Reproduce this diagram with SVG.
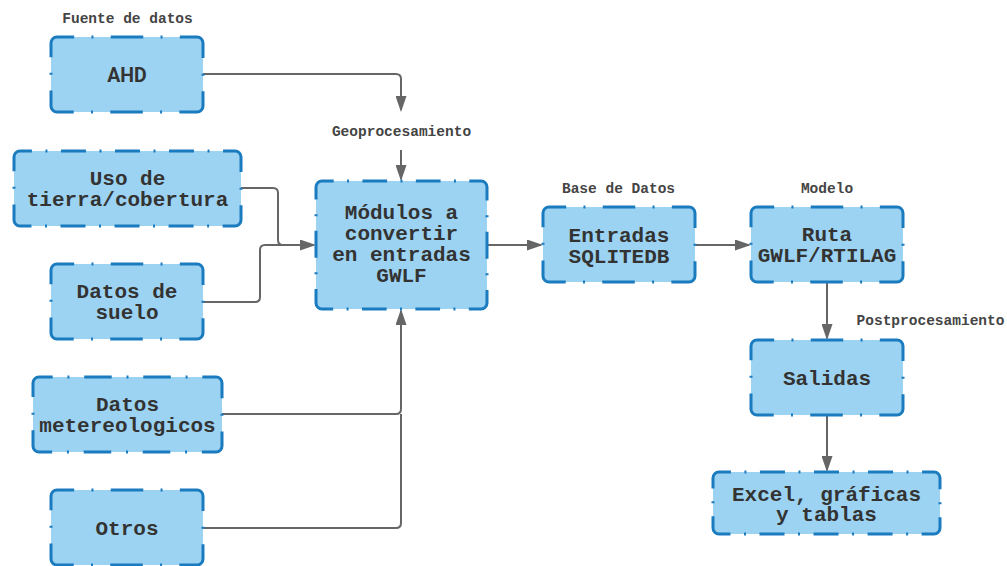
<svg xmlns="http://www.w3.org/2000/svg" width="1007" height="566" viewBox="0 0 1007 566">
  <defs>
    <style>
      .box rect { fill:#9dd3f2; stroke:#1b7bbf; stroke-width:3; stroke-linecap:butt; }
      /* dash-dot borders: dashes sit on the corners, dots spread evenly along each side */
      .s152 rect { stroke-dasharray:2 17.27 32.55 17.27 2 17.27 41.48 15.63 2 15.63 41.48 17.27 2 17.27 32.55 17.27 2 17.27 41.48 15.63 2 15.63 41.48 17.27; stroke-dashoffset:-34.45; }
      .s227 rect { stroke-dasharray:2 13.51 25.02 13.51 2 13.51 25.02 13.51 2 13.51 25.02 13.51 2 13.51 36.22 15.63 2 15.63 36.22 13.51 2 13.51 25.02 13.51 2 13.51 25.02 13.51 2 13.51 25.02 13.51 2 13.51 36.22 15.63 2 15.63 36.22 13.51; stroke-dashoffset:-25.43; }
      .s227s rect { stroke-dasharray:2 13.51 25.02 13.51 2 13.51 25.02 13.51 2 13.51 25.02 13.51 2 13.51 32.43 12.92 2 12.92 32.43 13.51 2 13.51 25.02 13.51 2 13.51 25.02 13.51 2 13.51 25.02 13.51 2 13.51 32.43 12.92 2 12.92 32.43 13.51; stroke-dashoffset:-25.43; }
      .s171 rect { stroke-dasharray:2 13.36 24.72 13.36 2 13.36 24.72 13.36 2 13.36 34.49 14.55 2 14.55 27.09 14.55 2 14.55 34.49 13.36 2 13.36 24.72 13.36 2 13.36 24.72 13.36 2 13.36 34.49 14.55 2 14.55 27.09 14.55 2 14.55 34.49 13.36; stroke-dashoffset:-25.06; }
      .s189 rect { stroke-dasharray:2 14.77 27.53 14.77 2 14.77 27.53 14.77 2 14.77 37.97 15.63 2 15.63 37.97 14.77 2 14.77 27.53 14.77 2 14.77 27.53 14.77 2 14.77 37.97 15.63 2 15.63 37.97 14.77; stroke-dashoffset:-28.44; }
      .t { font-family:"Liberation Mono","DejaVu Sans Mono",monospace; font-weight:700; font-size:21px; fill:#333333; text-anchor:middle; }
      .sans { font-family:Roboto,"Liberation Sans",sans-serif; font-size:19.5px; }
      .lbl { font-family:"Liberation Mono","DejaVu Sans Mono",monospace; font-weight:700; font-size:14.5px; fill:#444444; text-anchor:middle; }
      .conn path { fill:none; stroke:#666666; stroke-width:2; }
    </style>
    <marker id="arrow" markerUnits="userSpaceOnUse" markerWidth="16" markerHeight="11" refX="14" refY="5.5" orient="auto">
      <path d="M0,0 L16,5.5 L0,11 Z" fill="#666666"/>
    </marker>
  </defs>

  <!-- section labels -->
  <g id="labels">
    <text class="lbl" x="127.5" y="23">Fuente de datos</text>
    <text class="lbl" x="401.5" y="136">Geoprocesamiento</text>
    <text class="lbl" x="618.5" y="193">Base de Datos</text>
    <text class="lbl" x="827" y="193">Modelo</text>
    <text class="lbl" x="930.5" y="325">Postprocesamiento</text>
  </g>

  <!-- connectors -->
  <g id="connectors" class="conn">
    <path d="M203,74 H396 Q401,74 401,79 V110" marker-end="url(#arrow)"/>
    <path d="M401,150 V179" marker-end="url(#arrow)"/>
    <path d="M241,188 H273 Q278,188 278,193 V240 Q278,245 283,245 H314" marker-end="url(#arrow)"/>
    <path d="M203,302 H255 Q260,302 260,297 V250 Q260,245 265,245 H314"/>
    <path d="M222,414 H396 Q401,414 401,409 V311" marker-end="url(#arrow)"/>
    <path d="M203,528 H396 Q401,528 401,523 V414"/>
    <path d="M487,245 H541" marker-end="url(#arrow)"/>
    <path d="M695,245 H749" marker-end="url(#arrow)"/>
    <path d="M827,282 V338" marker-end="url(#arrow)"/>
    <path d="M827,415 V470" marker-end="url(#arrow)"/>
  </g>

  <!-- nodes -->
  <g id="ahd" class="box s152">
    <rect x="51" y="37" width="152" height="75" rx="6"/>
    <text class="t sans" x="127" y="82">AHD</text>
  </g>
  <g id="uso-tierra" class="box s227">
    <rect x="14" y="151" width="227" height="75" rx="6"/>
    <text class="t" x="127.5" y="185">Uso de</text>
    <text class="t" x="127.5" y="206">tierra/cobertura</text>
  </g>
  <g id="datos-suelo" class="box s152">
    <rect x="51" y="264" width="152" height="75" rx="6"/>
    <text class="t" x="127" y="298">Datos de</text>
    <text class="t" x="127" y="319">suelo</text>
  </g>
  <g id="datos-met" class="box s189">
    <rect x="33" y="377" width="189" height="75" rx="6"/>
    <text class="t" x="127.5" y="411">Datos</text>
    <text class="t" x="127.5" y="432">metereologicos</text>
  </g>
  <g id="otros" class="box s152">
    <rect x="51" y="490" width="152" height="75" rx="6"/>
    <text class="t" x="127" y="535">Otros</text>
  </g>
  <g id="modulos" class="box s171">
    <rect x="316" y="181" width="171" height="128" rx="6"/>
    <text class="t" x="401.5" y="219">Módulos a</text>
    <text class="t" x="401.5" y="240">convertir</text>
    <text class="t" x="401.5" y="261">en entradas</text>
    <text class="t" x="401.5" y="282">GWLF</text>
  </g>
  <g id="entradas" class="box s152">
    <rect x="543" y="207" width="152" height="75" rx="6"/>
    <text class="t" x="619" y="241.5">Entradas</text>
    <text class="t" x="619" y="262.5">SQLITEDB</text>
  </g>
  <g id="ruta" class="box s152">
    <rect x="751" y="207" width="152" height="75" rx="6"/>
    <text class="t" x="827" y="241">Ruta</text>
    <text class="t" x="827" y="262">GWLF/RTILAG</text>
  </g>
  <g id="salidas" class="box s152">
    <rect x="751" y="340" width="152" height="75" rx="6"/>
    <text class="t" x="827" y="385">Salidas</text>
  </g>
  <g id="excel" class="box s227s">
    <rect x="713" y="472" width="227" height="62" rx="6"/>
    <text class="t" x="826.5" y="500.5">Excel, gráficas</text>
    <text class="t" x="826.5" y="521">y tablas</text>
  </g>
</svg>
